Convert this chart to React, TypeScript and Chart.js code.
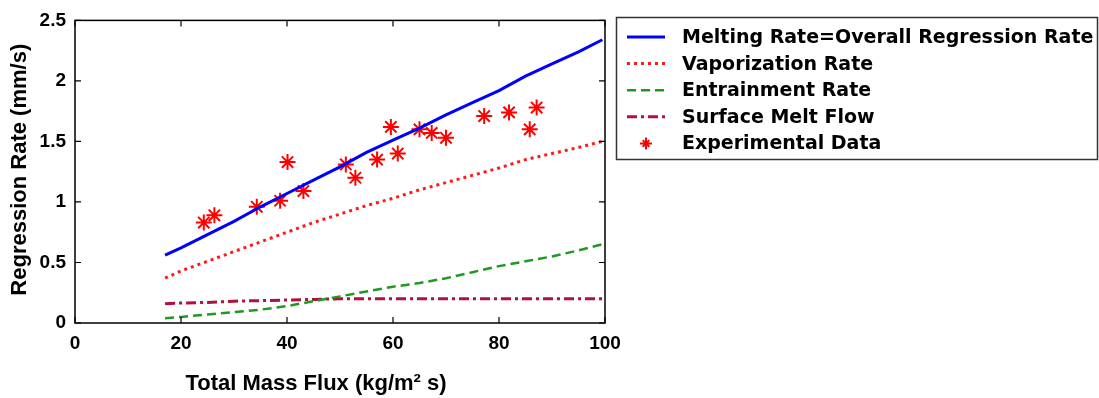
import React, { useEffect, useRef } from "react";
import { Chart, registerables } from "chart.js";

Chart.register(...registerables);

// ---- data ----
const modelFlux = [17, 20, 25, 30, 35, 40, 45, 50, 55, 60, 65, 70, 75, 80, 85, 90, 95, 99.5];
const meltingRate = [0.56, 0.62, 0.73, 0.84, 0.96, 1.07, 1.18, 1.29, 1.41, 1.51, 1.61, 1.72, 1.82, 1.92, 2.04, 2.14, 2.24, 2.34];
const vaporizationRate = [0.37, 0.43, 0.51, 0.59, 0.67, 0.75, 0.83, 0.9, 0.97, 1.03, 1.1, 1.16, 1.22, 1.28, 1.35, 1.4, 1.45, 1.5];
const entrainmentRate = [0.04, 0.05, 0.07, 0.09, 0.11, 0.14, 0.18, 0.22, 0.26, 0.3, 0.33, 0.37, 0.42, 0.47, 0.51, 0.55, 0.6, 0.65];
const surfaceMeltFlow = [0.16, 0.165, 0.17, 0.18, 0.185, 0.19, 0.195, 0.2, 0.2, 0.2, 0.2, 0.2, 0.2, 0.2, 0.2, 0.2, 0.2, 0.2];

const expFlux = [24.3, 26.3, 34.3, 38.7, 40.1, 43.1, 51.1, 52.9, 57.0, 59.6, 60.9, 65.0, 67.3, 70.0, 77.2, 81.9, 85.8, 87.1];
const expRate = [0.83, 0.89, 0.96, 1.01, 1.33, 1.09, 1.31, 1.2, 1.35, 1.62, 1.4, 1.6, 1.57, 1.53, 1.71, 1.74, 1.6, 1.78];

const seriesLabels = [
  "Melting Rate=Overall Regression Rate",
  "Vaporization Rate",
  "Entrainment Rate",
  "Surface Melt Flow",
  "Experimental Data",
];
const xTickValues = [0, 20, 40, 60, 80, 100];
const yTickValues = [0, 0.5, 1, 1.5, 2, 2.5];
const xTitle = "Total Mass Flux (kg/m\u00B2 s)";
const yTitle = "Regression Rate (mm/s)";

const COLORS = ["#0000ff", "#ff1a1a", "#1f9a1f", "#b0103c", "#ff0000"];
const DASHES: number[][] = [[], [3, 4], [9, 5], [10, 4, 3, 4], []];
const WIDTHS = [3, 3, 2.5, 3, 2];

const pts = (xs: number[], ys: number[]) => xs.map((x, i) => ({ x, y: ys[i] }));

const framePlugin = {
  id: "frameAndText",
  afterDraw(chart: any) {
    const { ctx, chartArea: a, scales } = chart;
    const xs = scales.x;
    const ys = scales.y;
    ctx.save();
    // axes box
    ctx.strokeStyle = "#000";
    ctx.lineWidth = 1.5;
    ctx.setLineDash([]);
    ctx.strokeRect(a.left, a.top, a.right - a.left, a.bottom - a.top);
    // inward ticks
    const tl = 6;
    ctx.lineWidth = 1.2;
    ctx.beginPath();
    xTickValues.forEach((v) => {
      const px = xs.getPixelForValue(v);
      ctx.moveTo(px, a.bottom);
      ctx.lineTo(px, a.bottom - tl);
      ctx.moveTo(px, a.top);
      ctx.lineTo(px, a.top + tl);
    });
    yTickValues.forEach((v) => {
      const py = ys.getPixelForValue(v);
      ctx.moveTo(a.left, py);
      ctx.lineTo(a.left + tl, py);
      ctx.moveTo(a.right, py);
      ctx.lineTo(a.right - tl, py);
    });
    ctx.stroke();

    // axis titles
    ctx.fillStyle = "#000";
    ctx.font = "bold 22px 'Liberation Sans', Arial, sans-serif";
    ctx.textAlign = "center";
    ctx.textBaseline = "middle";
    ctx.fillText(xTitle, 316, 384);
    ctx.save();
    ctx.translate(20, (a.top + a.bottom) / 2 - 2);
    ctx.rotate(-Math.PI / 2);
    ctx.fillText(yTitle, 0, 0);
    ctx.restore();

    // legend
    const bx = 616.5, by = 17.5, bw = 481, bh = 142;
    ctx.fillStyle = "#fff";
    ctx.fillRect(bx, by, bw, bh);
    ctx.strokeStyle = "#333";
    ctx.lineWidth = 1.5;
    ctx.strokeRect(bx, by, bw, bh);
    ctx.font = "bold 19px 'DejaVu Sans', sans-serif";
    ctx.textAlign = "left";
    ctx.textBaseline = "middle";
    seriesLabels.forEach((label, i) => {
      const cy = 37 + i * 26.6;
      ctx.strokeStyle = COLORS[i];
      if (i < 4) {
        ctx.lineWidth = WIDTHS[i];
        ctx.setLineDash(DASHES[i]);
        ctx.beginPath();
        ctx.moveTo(627, cy);
        ctx.lineTo(665, cy);
        ctx.stroke();
        ctx.setLineDash([]);
      } else {
        const cx = 646, r = 6;
        ctx.lineWidth = 2;
        ctx.beginPath();
        ctx.moveTo(cx - r, cy); ctx.lineTo(cx + r, cy);
        ctx.moveTo(cx, cy - r); ctx.lineTo(cx, cy + r);
        const d = r * 0.55;
        ctx.moveTo(cx - d, cy - d); ctx.lineTo(cx + d, cy + d);
        ctx.moveTo(cx - d, cy + d); ctx.lineTo(cx + d, cy - d);
        ctx.stroke();
      }
      ctx.fillStyle = "#000";
      ctx.fillText(label, 682, cy + 1);
    });
    ctx.restore();
  },
};

export default function App() {
  const ref = useRef<HTMLCanvasElement>(null);
  useEffect(() => {
    if (!ref.current) return;
    Chart.defaults.font.family = "'Liberation Sans', Arial, sans-serif";
    Chart.defaults.color = "#000";
    const lineSeries = [meltingRate, vaporizationRate, entrainmentRate, surfaceMeltFlow];
    const datasets: any[] = lineSeries.map((vals, i) => ({
      label: seriesLabels[i],
      data: pts(modelFlux, vals),
      borderColor: COLORS[i],
      backgroundColor: COLORS[i],
      borderWidth: WIDTHS[i],
      borderDash: DASHES[i],
      pointRadius: 0,
      tension: 0,
      fill: false,
      showLine: true,
    }));
    datasets.push({
      label: seriesLabels[4],
      data: pts(expFlux, expRate),
      showLine: false,
      pointStyle: "star",
      pointRadius: 8,
      pointBorderWidth: 2,
      borderColor: COLORS[4],
      backgroundColor: COLORS[4],
    });
    const chart = new Chart(ref.current, {
      type: "scatter",
      data: { datasets },
      options: {
        animation: false,
        responsive: false,
        devicePixelRatio: 1,
        layout: { padding: { left: 0, right: 494, top: 15, bottom: 0 } },
        plugins: { legend: { display: false }, tooltip: { enabled: false } },
        scales: {
          x: {
            type: "linear",
            min: 0,
            max: 100,
            afterBuildTicks: (s: any) => { s.ticks = xTickValues.map((v) => ({ value: v })); },
            afterFit: (s: any) => { s.height = 75; },
            grid: { display: false, drawTicks: false },
            border: { display: false },
            ticks: { padding: 9, font: { size: 19, weight: "bold" }, color: "#000", maxRotation: 0, callback: (v: any) => String(v) },
          },
          y: {
            type: "linear",
            min: 0,
            max: 2.5,
            afterBuildTicks: (s: any) => { s.ticks = yTickValues.map((v) => ({ value: v })); },
            afterFit: (s: any) => { s.width = 75; },
            grid: { display: false, drawTicks: false },
            border: { display: false },
            ticks: { padding: 9, font: { size: 19, weight: "bold" }, color: "#000", callback: (v: any) => String(v) },
          },
        },
      },
      plugins: [framePlugin],
    });
    return () => chart.destroy();
  }, []);
  return (
    <div style={{ position: "absolute", left: 0, top: 0, width: 1099, height: 398, background: "#fff" }}>
      <canvas ref={ref} width={1099} height={398} style={{ display: "block", width: 1099, height: 398 }} />
    </div>
  );
}
